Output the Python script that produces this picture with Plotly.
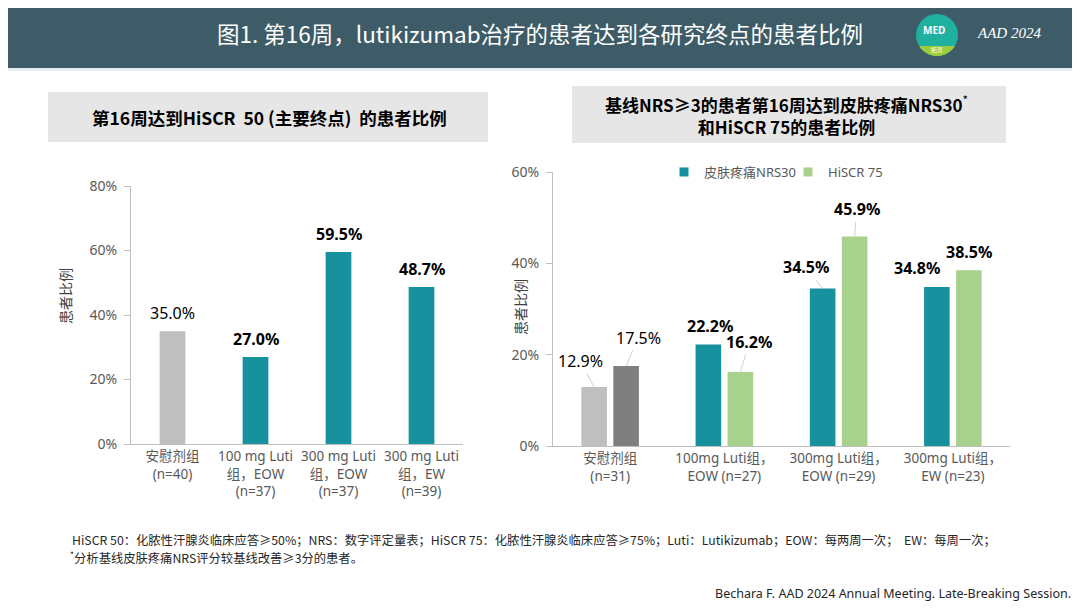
import numpy as np
import plotly.graph_objects as go

W, H = 1080, 608

# 左图：第16周达到HiSCR 50的患者比例
groups_a = ["安慰剂组<br>(n=40)", "100 mg Luti<br>组，EOW<br>(n=37)",
            "300 mg Luti<br>组，EOW<br>(n=37)", "300 mg Luti<br>组，EW<br>(n=39)"]
hiscr50 = [35.0, 27.0, 59.5, 48.7]

# 右图：基线NRS>=3患者的NRS30和HiSCR 75
groups_b = ["安慰剂组<br>(n=31)", "100mg Luti组，<br>EOW (n=27)",
            "300mg Luti组，<br>EOW (n=29)", "300mg Luti组，<br>EW (n=23)"]
nrs30 = [12.9, 22.2, 34.5, 34.8]
hiscr75 = [17.5, 16.2, 45.9, 38.5]

TEAL = "#17919e"
GREEN = "#a9d18e"
LGREY = "#bfbfbf"
DGREY = "#7f7f7f"
AXC = "#bfbfbf"
TXT = "#595959"
FONT = "Noto Sans, Noto Sans CJK SC"
CJK = "Noto Sans CJK SC"

# page body has an 8px margin, so work in screen pixels and shift back
OX, OY = 8, 8


def px(x):
    return (x - OX) / W


def py(y):
    return 1 - (y - OY) / H


def note(x, y, text, size, color, family=CJK, xanchor="center", **kw):
    return dict(x=px(x), y=py(y), xref="paper", yref="paper", text=text, showarrow=False,
                xanchor=xanchor, yanchor="middle", font=dict(size=size, color=color, family=family), **kw)


fig = go.Figure()

fig.add_trace(go.Bar(
    x=groups_a, y=hiscr50, xaxis="x", yaxis="y", width=0.31,
    marker=dict(color=[LGREY] + [TEAL] * (len(hiscr50) - 1), line_width=0),
    showlegend=False))

fig.add_trace(go.Bar(
    x=groups_b, y=nrs30, xaxis="x2", yaxis="y2", name="皮肤疼痛NRS30",
    marker=dict(color=[LGREY] + [TEAL] * (len(nrs30) - 1), line_width=0),
    showlegend=False))
fig.add_trace(go.Bar(
    x=groups_b, y=hiscr75, xaxis="x2", yaxis="y2", name="HiSCR 75",
    marker=dict(color=[DGREY] + [GREEN] * (len(hiscr75) - 1), line_width=0),
    showlegend=False))

# legend only entries (placebo bars are grey, so keep legend colours fixed)
for nm, c, lg in [("皮肤疼痛NRS30", TEAL, "legend"), ("HiSCR 75", GREEN, "legend2")]:
    fig.add_trace(go.Scatter(x=[None], y=[None], xaxis="x2", yaxis="y2", name=nm, legend=lg,
                             mode="markers", marker=dict(symbol="square", size=9, color=c)))

BARGAP_B = 0.44
off = (1 - BARGAP_B) / 4

ann = []

# left chart value labels
for i, v in enumerate(hiscr50):
    t = f"{v:.1f}%"
    ann.append(dict(x=i, y=v, xref="x", yref="y", text=t if i == 0 else f"<b>{t}</b>",
                    showarrow=False, yanchor="middle", yshift=18,
                    font=dict(size=16, color="#000000", family=FONT)))

# right chart value labels: (dx, dy, leader line)
lab_nrs = [(-14, -26, True), (2, -19, False), (-17, -21, True), (-20, -19, False)]
lab_his = [(12, -28, True), (9, -30, True), (2, -27, True), (0, -18, False)]
for vals, sgn, labs in [(nrs30, -1, lab_nrs), (hiscr75, 1, lab_his)]:
    for i, v in enumerate(vals):
        t = f"{v:.1f}%"
        t = t if i == 0 else f"<b>{t}</b>"
        dx, dy, lead = labs[i]
        a = dict(x=i + sgn * off, y=v, xref="x2", yref="y2", text=t,
                 font=dict(size=16, color="#000000", family=FONT))
        if lead:
            a.update(showarrow=True, ax=dx, ay=dy, arrowhead=0, arrowwidth=1,
                     arrowcolor="#d0d0d0", standoff=0)
        else:
            a.update(showarrow=False, xshift=dx, yshift=-dy, yanchor="middle")
        ann.append(a)

# y axis titles
ann.append(note(65, 296, "患者比例", 14, "#404040", textangle=-90))
ann.append(note(520, 307, "患者比例", 14, "#404040", textangle=-90))

# header title and logo text
ann.append(note(540, 33, "图1. 第16周，lutikizumab治疗的患者达到各研究终点的患者比例", 22.5, "white"))
ann.append(note(934, 30, "<b>MED</b>", 10, "white", family="Noto Sans"))
ann.append(note(937, 50, "拓普", 6, "white"))
ann.append(note(1009, 33, "<i>AAD 2024</i>", 15, "white", family="Liberation Serif"))

# panel titles
ann.append(note(269, 117, "<b>第16周达到HiSCR  50 (主要终点)  的患者比例</b>", 17.5, "#000000"))
ann.append(note(786, 115, "<b>基线NRS≥3的患者第16周达到皮肤疼痛NRS30</b><sup>*</sup><br>"
                          "<b>和HiSCR 75的患者比例</b>", 17, "#000000"))

# footnotes
ann.append(note(70, 540, "HiSCR 50：化脓性汗腺炎临床应答≥50%；NRS：数字评定量表；HiSCR 75：化脓性汗腺炎临床应答≥75%；"
                         "Luti：Lutikizumab；EOW：每两周一次；  EW：每周一次；", 12.3, "#262626", xanchor="left"))
ann.append(note(68, 557, "<sup>*</sup>分析基线皮肤疼痛NRS评分较基线改善≥3分的患者。", 12.3, "#262626",
                xanchor="left"))
ann.append(note(1073, 593, "Bechara F. AAD 2024 Annual Meeting. Late-Breaking Session.", 12.5, "#262626",
                family="Noto Sans", xanchor="right"))

shapes = [
    dict(type="rect", xref="paper", yref="paper", x0=-0.02, x1=1.02, y0=py(68), y1=1.05,
         fillcolor="#3e5c68", line_width=0, layer="below"),
    dict(type="rect", xref="paper", yref="paper", x0=-0.02, x1=1.02, y0=py(71), y1=py(68),
         fillcolor="#e4edf1", line_width=0, layer="below"),
    dict(type="rect", xref="paper", yref="paper", x0=px(48), x1=px(488), y0=py(142), y1=py(92),
         fillcolor="#e7e6e6", line_width=0, layer="below"),
    dict(type="rect", xref="paper", yref="paper", x0=px(572), x1=px(1006), y0=py(143), y1=py(86),
         fillcolor="#e7e6e6", line_width=0, layer="below"),
]

# logo circle: teal top, green lower segment
cx, cy, r = 937, 35, 21
shapes.append(dict(type="circle", xref="paper", yref="paper", x0=px(cx - r), x1=px(cx + r),
                   y0=py(cy + r), y1=py(cy - r), fillcolor="#1fb0a0", line_width=0))
t0 = np.arcsin(11 / r)
ts = np.linspace(t0, np.pi - t0, 30)
pts = [(px(cx + r * np.cos(t)), py(cy + r * np.sin(t))) for t in ts]
path = "M " + " L ".join(f"{a:.5f},{b:.5f}" for a, b in pts) + " Z"
shapes.append(dict(type="path", xref="paper", yref="paper", path=path,
                   fillcolor="#9ccc3c", line_width=0))

xaxis_common = dict(showline=True, linecolor=AXC, linewidth=1, showgrid=False, zeroline=False,
                    automargin=False, ticks="", type="category",
                    tickfont=dict(size=13.5, color=TXT, family=FONT))
yaxis_common = dict(showline=True, linecolor=AXC, linewidth=1, showgrid=False, zeroline=False,
                    automargin=False, dtick=20, ticksuffix="%", ticks="outside", ticklen=6,
                    tickcolor=AXC, ticklabelstandoff=4,
                    tickfont=dict(size=14, color=TXT, family=FONT))
leg_common = dict(orientation="h", xanchor="left", yanchor="middle", itemwidth=30,
                  font=dict(size=13, color=TXT, family=FONT), bgcolor="rgba(0,0,0,0)")

fig.update_layout(
    width=W, height=H, margin=dict(l=0, r=0, t=0, b=0, autoexpand=False),
    paper_bgcolor="white", plot_bgcolor="white",
    font=dict(family=FONT, color=TXT),
    barmode="group", bargap=BARGAP_B, bargroupgap=0.2,
    xaxis=dict(domain=[px(131), px(463)], anchor="y", **xaxis_common),
    yaxis=dict(domain=[py(444), py(186)], anchor="x", range=[0, 80], **yaxis_common),
    xaxis2=dict(domain=[px(553), px(1010)], anchor="y2", **xaxis_common),
    yaxis2=dict(domain=[py(446), py(172)], anchor="x2", range=[0, 60], **yaxis_common),
    legend=dict(x=px(664), y=py(172), **leg_common),
    legend2=dict(x=px(788), y=py(172), **leg_common),
    annotations=ann, shapes=shapes,
)

fig.write_html("out.html")
